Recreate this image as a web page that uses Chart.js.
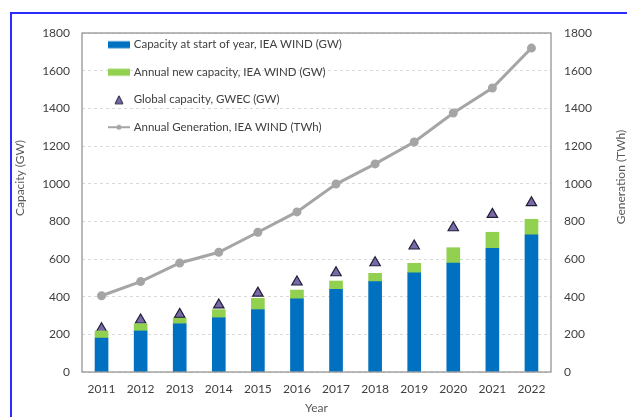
<!DOCTYPE html>
<html>
<head>
<meta charset="utf-8">
<script src="https://cdn.jsdelivr.net/npm/chart.js@4.4.0/dist/chart.umd.min.js"></script>
<style>
  body { margin: 0; background: #fff; overflow: hidden; }
  #frame { position: absolute; left: 10px; top: 12px; width: 700px; height: 500px;
           border-left: 2px solid #2b2bff; border-top: 2px solid #2b2bff; }
  #myChart { position: absolute; left: 0; top: 0; }
</style>
</head>
<body>
<div id="frame"></div>
<canvas id="myChart" width="627" height="417"></canvas>
<script>
const years = ["2011", "2012", "2013", "2014", "2015", "2016", "2017", "2018", "2019", "2020", "2021", "2022"];
const capacityStart = [180, 218, 256, 288, 331, 388, 439, 480, 526, 579, 657, 729];
const newCapacity = [38, 38, 30, 43, 60, 47, 44, 44, 51, 81, 85, 82];
const gwecCapacity = [230, 276, 306, 356, 419, 478, 527, 580, 669, 766, 837, 899];
const generation = [405, 480, 579, 636, 742, 850, 998, 1105, 1221, 1375, 1508, 1720];
const yTicks = [0, 200, 400, 600, 800, 1000, 1200, 1400, 1600, 1800];

const FONT = "Lato";
const TEXT = "#404040";

// little canvases used as legend icons
function makeIcon(draw) {
  var c = document.createElement('canvas');
  c.width = 22;
  c.height = 12;
  draw(c.getContext('2d'));
  return c;
}
const icons = [
  makeIcon(g => { g.fillStyle = "#0070c0"; g.fillRect(0, 2.5, 22, 7); }),
  makeIcon(g => { g.fillStyle = "#92d050"; g.fillRect(0, 2.5, 22, 7); }),
  makeIcon(g => {
    g.beginPath(); g.moveTo(11, 2); g.lineTo(15, 10); g.lineTo(7, 10); g.closePath();
    g.fillStyle = "#7b68a6"; g.fill(); g.strokeStyle = "#1f1f3a"; g.lineWidth = 1; g.stroke();
  }),
  makeIcon(g => {
    g.strokeStyle = "#a5a5a5"; g.lineWidth = 2;
    g.beginPath(); g.moveTo(0, 6); g.lineTo(22, 6); g.stroke();
    g.fillStyle = "#a5a5a5"; g.beginPath(); g.arc(11, 6, 2.5, 0, Math.PI * 2); g.fill();
  })
];

// frame round the plot, the legend shift and the two side titles
const extras = {
  id: 'extras',
  afterLayout(chart) {
    chart.legend.left = 94;
    chart.legend.top = 23;
  },
  afterDraw(chart) {
    const ctx = chart.ctx;
    const a = chart.chartArea;
    ctx.save();
    ctx.strokeStyle = "#8c8c8c";
    ctx.lineWidth = 1.2;
    ctx.strokeRect(a.left, a.top, a.right - a.left, a.bottom - a.top);
    ctx.fillStyle = "#595959";
    ctx.font = "12px " + FONT;
    ctx.textAlign = "center";
    ctx.textBaseline = "middle";
    ctx.translate(20, 178);
    ctx.rotate(-Math.PI / 2);
    ctx.fillText("Capacity (GW)", 0, 0);
    ctx.restore();
    ctx.save();
    ctx.fillStyle = "#595959";
    ctx.font = "12px " + FONT;
    ctx.textAlign = "center";
    ctx.textBaseline = "middle";
    ctx.translate(621, 177);
    ctx.rotate(-Math.PI / 2);
    ctx.fillText("Generation (TWh)", 0, 0);
    ctx.restore();
  }
};

function plainTick(value) {
  return String(value);
}

const ctx = document.getElementById('myChart');
const myChart = new Chart(ctx, {
  type: 'bar',
  data: {
    labels: years,
    datasets: [{
      label: "Capacity at start of year, IEA WIND (GW)",
      data: capacityStart,
      backgroundColor: "#0070c0",
      barThickness: 13,
      stack: 'cap',
      yAxisID: 'y'
    }, {
      label: "Annual new capacity, IEA WIND (GW)",
      data: newCapacity,
      backgroundColor: "#92d050",
      barThickness: 13,
      stack: 'cap',
      yAxisID: 'y'
    }, {
      type: 'line',
      label: "Global capacity, GWEC (GW)",
      data: gwecCapacity,
      showLine: false,
      pointStyle: 'triangle',
      pointRadius: 6,
      backgroundColor: "#7b68a6",
      borderColor: "#1f1f3a",
      borderWidth: 1.2,
      stack: 'gwec',
      yAxisID: 'y'
    }, {
      type: 'line',
      label: "Annual Generation, IEA WIND (TWh)",
      data: generation,
      borderColor: "#a5a5a5",
      borderWidth: 3,
      pointRadius: 3,
      pointBackgroundColor: "#a5a5a5",
      pointBorderColor: "#a5a5a5",
      tension: 0,
      yAxisID: 'y2'
    }]
  },
  options: {
    responsive: false,
    animation: false,
    devicePixelRatio: 1,
    layout: { padding: { top: 33, left: 0, right: 0, bottom: 0 } },
    plugins: {
      tooltip: { enabled: false },
      legend: {
        position: 'chartArea',
        align: 'start',
        labels: {
          usePointStyle: true,
          pointStyleWidth: 18,
          padding: 16,
          color: TEXT,
          font: { family: FONT, size: 11.5 },
          generateLabels(chart) {
            const items = Chart.defaults.plugins.legend.labels.generateLabels(chart);
            items.forEach((it, i) => { it.pointStyle = icons[i]; it.fontColor = TEXT; });
            return items;
          }
        }
      }
    },
    scales: {
      x: {
        stacked: true,
        grid: { display: false, drawTicks: false },
        border: { display: false },
        ticks: { color: TEXT, font: { family: FONT, size: 12 }, padding: 10, maxRotation: 0 },
        title: { display: true, text: "Year", color: "#595959", font: { family: FONT, size: 12 }, padding: { top: 0, bottom: 2 } },
        afterFit(scale) { scale.height = 45; }
      },
      y: {
        stacked: true,
        min: 0,
        max: 1800,
        afterBuildTicks(scale) { scale.ticks = yTicks.map(v => ({ value: v })); },
        grid: { color: "#d9d9d9", drawTicks: false },
        border: { display: false, dash: [3, 3] },
        ticks: { color: TEXT, font: { family: FONT, size: 12 }, padding: 12, callback: plainTick },
        afterFit(scale) { scale.width = 82; }
      },
      y2: {
        position: 'right',
        min: 0,
        max: 1800,
        afterBuildTicks(scale) { scale.ticks = yTicks.map(v => ({ value: v })); },
        grid: { display: false, drawTicks: false },
        border: { display: false },
        ticks: { color: TEXT, font: { family: FONT, size: 12 }, padding: 13, callback: plainTick },
        afterFit(scale) { scale.width = 76; }
      }
    }
  },
  plugins: [extras]
});
</script>
</body>
</html>
